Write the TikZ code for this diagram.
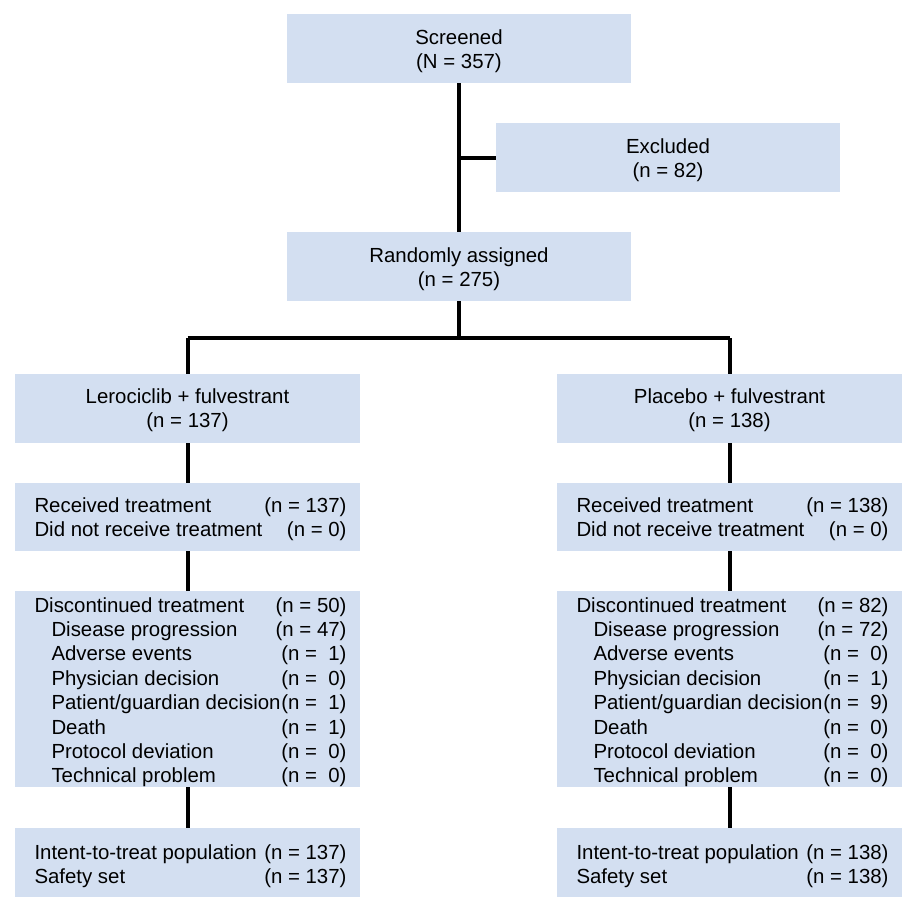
\documentclass[tikz,border=0pt]{standalone}
\usepackage{fontspec}
\setmainfont{Liberation Sans}
\definecolor{boxblue}{RGB}{211,223,241}
\begin{document}
\begin{tikzpicture}[x=1pt,y=-1pt,
  box/.style={fill=boxblue,draw=none,inner sep=0pt,outer sep=0pt},
  txt/.style={inner sep=0pt,outer sep=0pt,font=\fontsize{20.4}{24}\selectfont},
  lt/.style={txt,anchor=base west},
  rt/.style={txt,anchor=base east},
  ct/.style={txt,anchor=base},
  conn/.style={line width=4pt,line join=miter,line cap=butt}]
\useasboundingbox (0,0) rectangle (918,913);
% boxes
\path[box] (287,14) rectangle (631,83) coordinate (scrBR);
\coordinate (scrB) at (459,83);
\path[box] (496,123) rectangle (840,192);
\coordinate (excL) at (496,158);
\path[box] (287,232) rectangle (631,301);
\coordinate (randT) at (459,232);
\coordinate (randB) at (459,301);
\foreach \x/\c in {15/L,557/R}{
  \path[box] (\x,374) rectangle ++(345,69);
  \path[box] (\x,483) rectangle ++(345,68);
  \path[box] (\x,591) rectangle ++(345,196);
  \path[box] (\x,828) rectangle ++(345,69);
}
% connector coordinates
\coordinate (cL) at (187.5,0);
\coordinate (cR) at (729.5,0);
\coordinate (scrSplit) at (459,158);
\coordinate (branch) at (459,338);
% connectors
\draw[conn] (scrB) -- (randT);
\draw[conn] (scrSplit) -- (excL);
\draw[conn] (randB) -- (branch);
\draw[conn] (branch -| cL) |- (branch) -| (cR |- branch);
\draw[conn] (cL |- branch) -- (cL |- 0,374);
\draw[conn] (cR |- branch) -- (cR |- 0,374);
\foreach \c in {cL,cR}{
  \draw[conn] (\c |- 0,443) -- (\c |- 0,483);
  \draw[conn] (\c |- 0,551) -- (\c |- 0,591);
  \draw[conn] (\c |- 0,787) -- (\c |- 0,828);
}
% top texts
\node[ct] (t1) at (459,44.6) {Screened};
\node[ct] (t2) at (459,68.6) {(N = 357)};
\node[ct] (t3) at (668,153.6) {Excluded};
\node[ct] (t4) at (668,177.6) {(n = 82)};
\node[ct] (t5) at (459,262.6) {Randomly assigned};
\node[ct] (t6) at (459,286.6) {(n = 275)};
\node[ct] (a1) at (187.5,403.6) {Lerociclib + fulvestrant};
\node[ct] (a2) at (187.5,427.6) {(n = 137)};
\node[ct] (b1) at (729.5,403.6) {Placebo + fulvestrant};
\node[ct] (b2) at (729.5,427.6) {(n = 138)};
% left column texts
\node[lt] (l1) at (34.5,512) {Received treatment};
\node[rt] (l1n) at (346.5,512) {(n = 137)};
\node[lt] (l2) at (34.5,536) {Did not receive treatment};
\node[rt] (l2n) at (346.5,536) {(n = 0)};
\node[lt] (l3) at (34.5,612) {Discontinued treatment};
\node[rt] (l3n) at (346.5,612) {(n = 50)};
\node[lt] (l4) at (51.5,636.4) {Disease progression};
\node[rt] (l4n) at (346.5,636.4) {(n = 47)};
\node[lt] (l5) at (51.5,660.8) {Adverse events};
\node[rt] (l5n) at (346.5,660.8) {(n =\ \ 1)};
\node[lt] (l6) at (51.5,685.2) {Physician decision};
\node[rt] (l6n) at (346.5,685.2) {(n =\ \ 0)};
\node[lt] (l7) at (51.5,709.6) {Patient/guardian decision};
\node[rt] (l7n) at (346.5,709.6) {(n =\ \ 1)};
\node[lt] (l8) at (51.5,734) {Death};
\node[rt] (l8n) at (346.5,734) {(n =\ \ 1)};
\node[lt] (l9) at (51.5,758.4) {Protocol deviation};
\node[rt] (l9n) at (346.5,758.4) {(n =\ \ 0)};
\node[lt] (l10) at (51.5,782.8) {Technical problem};
\node[rt] (l10n) at (346.5,782.8) {(n =\ \ 0)};
\node[lt] (l11) at (34.5,859) {Intent-to-treat population};
\node[rt] (l11n) at (346.5,859) {(n = 137)};
\node[lt] (l12) at (34.5,883) {Safety set};
\node[rt] (l12n) at (346.5,883) {(n = 137)};
% right column texts
\node[lt] (r1) at (576.5,512) {Received treatment};
\node[rt] (r1n) at (888.5,512) {(n = 138)};
\node[lt] (r2) at (576.5,536) {Did not receive treatment};
\node[rt] (r2n) at (888.5,536) {(n = 0)};
\node[lt] (r3) at (576.5,612) {Discontinued treatment};
\node[rt] (r3n) at (888.5,612) {(n = 82)};
\node[lt] (r4) at (593.5,636.4) {Disease progression};
\node[rt] (r4n) at (888.5,636.4) {(n = 72)};
\node[lt] (r5) at (593.5,660.8) {Adverse events};
\node[rt] (r5n) at (888.5,660.8) {(n =\ \ 0)};
\node[lt] (r6) at (593.5,685.2) {Physician decision};
\node[rt] (r6n) at (888.5,685.2) {(n =\ \ 1)};
\node[lt] (r7) at (593.5,709.6) {Patient/guardian decision};
\node[rt] (r7n) at (888.5,709.6) {(n =\ \ 9)};
\node[lt] (r8) at (593.5,734) {Death};
\node[rt] (r8n) at (888.5,734) {(n =\ \ 0)};
\node[lt] (r9) at (593.5,758.4) {Protocol deviation};
\node[rt] (r9n) at (888.5,758.4) {(n =\ \ 0)};
\node[lt] (r10) at (593.5,782.8) {Technical problem};
\node[rt] (r10n) at (888.5,782.8) {(n =\ \ 0)};
\node[lt] (r11) at (576.5,859) {Intent-to-treat population};
\node[rt] (r11n) at (888.5,859) {(n = 138)};
\node[lt] (r12) at (576.5,883) {Safety set};
\node[rt] (r12n) at (888.5,883) {(n = 138)};
\end{tikzpicture}
\end{document}
